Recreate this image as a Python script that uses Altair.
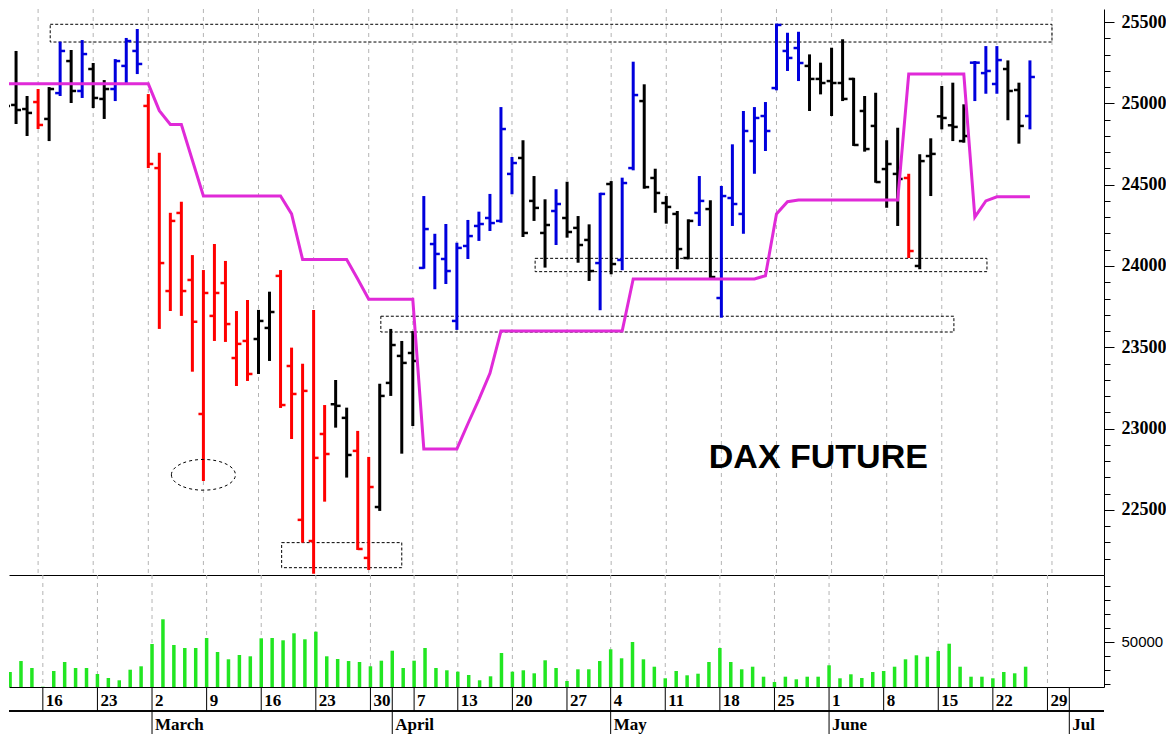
import altair as alt
import pandas as pd

# ---------------- data (trading-day index 0 = Mon 2 March) ----------------
day_index = list(range(-13, 81))

bar_color = list("kkkrkbkbkkbbb"
                 "rrrrrrrrrrkkrrrrrkkrrkkkk"
                 "bbbbbbbbbkkkbkkkbkbbkkkkkbkbbbbb"
                 "bbbkkkkkkkkkrkkkkkbbbkkb")

opens = [25100, 24990, 24965, 25008, 24904, 25063, 25260, 25076, 25211, 25027, 25088, 25230, 25322,
         24984, 24602, 23846, 24326, 23914, 23090, 23693, 23895, 23434, 23539, 23551, 23619, 23939,
         23385, 22439, 22309, 22967, 23150, 23066, 22863, 22205, 22518, 23281, 23447, 23465,
         23988, 24135, 24043, 23662, 24123, 24246, 24295, 24277, 24566, 24664, 24400, 24203, 24338,
         24295, 24234, 24160, 24018, 24504, 24037, 24602, 25014, 24541, 24387, 24320, 24049, 24326,
         24350, 23803, 24418, 24320, 24768, 24922, 25094, 25322, 25340, 25230, 25150, 25137, 25125,
         25150, 24953, 24861, 24596, 24566, 24541, 24000, 24676, 24920, 24865, 24768, 25250, 25186,
         25119, 25211, 25082, 24922]
highs = [25131, 25322, 25045, 25088, 25100, 25379, 25328, 25389, 25248, 25143, 25272, 25402, 25457,
         25057, 24696, 24327, 24395, 24067, 23975, 24135, 24031, 23723, 23791, 23730, 23842, 23975,
         23498, 23399, 23730, 23145, 23299, 23129, 22986, 22826, 23276, 23613, 23539, 23600,
         24430, 24198, 24258, 24143, 24283, 24334, 24443, 24977, 24670, 24773, 24553, 24410, 24472,
         24518, 24307, 24256, 24450, 24522, 24543, 25256, 25117, 24598, 24430, 24338, 24287, 24553,
         24404, 24492, 24748, 24953, 24977, 25008, 25490, 25434, 25440, 25301, 25250, 25342, 25394,
         25157, 25045, 25065, 24773, 24850, 24567, 24687, 24785, 25107, 25127, 24994, 25260, 25352,
         25352, 25264, 25127, 25264]
lows = [24898, 24873, 24799, 24842, 24768, 25045, 25002, 25033, 24971, 24904, 25014, 25125, 25180,
        24602, 23613, 23723, 23693, 23350, 22678, 23539, 23533, 23262, 23293, 23336, 23416, 23127,
        22936, 22299, 22107, 22551, 23006, 22699, 22254, 22131, 22494, 23201, 22846, 23016,
        23983, 23857, 23889, 23607, 24043, 24154, 24215, 24266, 24441, 24178, 24277, 23990, 24129,
        24174, 24020, 23908, 23728, 23949, 23974, 24588, 24475, 24327, 24260, 23980, 24041, 24246,
        23924, 23682, 24246, 24198, 24567, 24707, 25080, 25199, 25137, 24953, 25055, 24922, 25014,
        24738, 24703, 24512, 24358, 24246, 24049, 23980, 24430, 24840, 24768, 24758, 25014, 25059,
        25059, 24896, 24752, 24840]
closes = [24984, 24959, 24941, 24867, 25088, 25322, 25076, 25303, 25033, 25088, 25260, 25383, 25242,
          24627, 24018, 24277, 23846, 23657, 23834, 23834, 23643, 23521, 23336, 23662, 23717, 23145,
          23213, 23232, 22820, 22844, 23140, 22838, 22260, 22641, 23201, 23514, 23404, 23416,
          24227, 24074, 23969, 24111, 24184, 24258, 24264, 24842, 24633, 24203, 24357, 24252, 24381,
          24209, 24129, 23969, 24443, 24012, 24510, 25051, 24485, 24449, 24363, 24104, 24277, 24400,
          23932, 24430, 24381, 24830, 24910, 24830, 25482, 25279, 25248, 25150, 25125, 25125, 25027,
          24744, 24719, 24516, 24627, 24535, 24092, 24645, 24689, 24910, 24855, 24799, 25250, 25199,
          25266, 25076, 24861, 25162]
stop_line = [25120, 25120, 25120, 25120, 25120, 25120, 25120, 25120, 25120, 25120, 25120, 25120, 25120,
             25120, 24955, 24870, 24870, 24650, 24430, 24430, 24430, 24430, 24430, 24430, 24430, 24430,
             24320, 24040, 24040, 24040, 24040, 24040, 23920, 23795, 23795, 23795, 23795, 23795,
             22875, 22875, 22875, 22875, 23030, 23180, 23340, 23600, 23600, 23600, 23600, 23600, 23600,
             23600, 23600, 23600, 23600, 23600, 23600, 23920, 23920, 23920, 23920, 23920, 23920, 23920,
             23920, 23920, 23920, 23920, 23920, 23940, 24320, 24395, 24405, 24405, 24405, 24405, 24405,
             24405, 24405, 24405, 24405, 24405, 25180, 25180, 25180, 25180, 25180, 25180, 24300, 24400,
             24425, 24425, 24425, 24425]
volume = [28700, 36500, 31560, 18300, 29430, 35820, 31560, 31560, 27300, 24470, 22840, 30350, 32770,
          48580, 66100, 47870, 45750, 45750, 52840, 42910, 37730, 40780, 39860, 52620, 52840, 51200,
          56170, 51910, 57300, 39860, 37940, 36500, 35820, 32770, 36740, 43830, 31560, 36740,
          45750, 31560, 29930, 28940, 26600, 22840, 25670, 42200, 28940, 29930, 27800, 37020, 31560,
          22340, 30640, 30640, 36500, 44820, 38440,
          50000, 37730, 32480, 24260, 29430, 26380, 27520, 35820, 45750, 35820, 30640, 32480, 25390,
          21630, 25390, 23550, 25390, 25390, 33480, 24260, 27090, 24470, 28720, 29430, 32480, 37730,
          40570, 39570, 43620, 48790, 32480, 25390, 25390, 24260, 28720, 27800, 32480]

monday_idx = [-10, -5, 0, 5, 10, 15, 20, 24, 28, 33, 38, 42, 47, 52, 57, 62, 67, 72, 77, 82]
day_labels = ["16", "23", "2", "9", "16", "23", "30", "7", "13", "20", "27",
              "4", "11", "18", "25", "1", "8", "15", "22", "29"]
month_idx = [0, 22, 42, 62, 84]
month_labels = ["March", "April", "May", "June", "Jul"]
day_divider_idx = monday_idx + [22, 84]

box_x1 = [-8.9, 21.1, 35.1, 12.1]
box_x2 = [82.0, 73.1, 76.1, 23.0]
box_lo = [25377, 23594, 23965, 22145]
box_hi = [25486, 23691, 24047, 22299]

ellipse_x = [5]
ellipse_y = [22716]

title_x = [60.8]
title_y = [22755]
title_text = ["DAX FUTURE"]

price_ticks = list(range(22200, 25600, 100))
volume_ticks = [20000, 30000, 40000, 50000, 60000, 70000, 80000, 90000]

# ---------------- layout constants ----------------
W = 1095
H_PRICE = 566
H_VOL = 112
X_DOMAIN = [-12.64, 86.72]
P_DOMAIN = [22100, 25580]
V_DOMAIN = [18086, 97500]

ohlc = pd.DataFrame({"i": day_index, "open": opens, "high": highs, "low": lows,
                     "close": closes, "c": bar_color, "stop": stop_line, "vol": volume})
mondays = pd.DataFrame({"i": monday_idx, "lab": day_labels})
months = pd.DataFrame({"i": month_idx, "lab": month_labels})
dividers = pd.DataFrame({"i": day_divider_idx})
boxes = pd.DataFrame({"x1": box_x1, "x2": box_x2, "lo": box_lo, "hi": box_hi})
ellipse = pd.DataFrame({"i": ellipse_x, "p": ellipse_y})
title_df = pd.DataFrame({"i": title_x, "p": title_y, "t": title_text})

xs = alt.Scale(domain=X_DOMAIN, nice=False, zero=False)
ps = alt.Scale(domain=P_DOMAIN, nice=False, zero=False)
vs = alt.Scale(domain=V_DOMAIN, nice=False, zero=False)
cs = alt.Scale(domain=["r", "k", "b"], range=["#ff0000", "#000000", "#0000dd"])

x_axis = alt.Axis(orient="bottom", labels=False, ticks=False, domain=True, domainColor="black",
                  domainWidth=1, grid=False, title=None)
price_axis = alt.Axis(orient="right", values=price_ticks, format="d",
                      labelExpr="datum.value % 500 === 0 ? datum.label : ''",
                      tickSize={"condition": {"test": "datum.value % 500 === 0", "value": 10}, "value": 6},
                      tickColor="black", domainColor="black", labelColor="black",
                      labelFont="Liberation Serif", labelFontWeight="bold", labelFontSize=18,
                      labelPadding=7, labelOverlap=False, grid=False, title=None)
vol_axis = alt.Axis(orient="right", values=volume_ticks, format="d",
                    labelExpr="datum.value === 50000 ? datum.label : ''",
                    tickSize={"condition": {"test": "datum.value === 50000", "value": 10}, "value": 6},
                    tickColor="black", domainColor="black", labelColor="black",
                    labelFont="Liberation Sans", labelFontSize=15,
                    labelPadding=7, labelOverlap=False, grid=False, title=None)


def PX(f):
    return alt.X(f, scale=xs, axis=x_axis)


def PY(f):
    return alt.Y(f, scale=ps, axis=price_axis)


def VX(f):
    return alt.X(f, scale=xs, axis=x_axis)


def VY(f):
    return alt.Y(f, scale=vs, axis=vol_axis)


grid_p = alt.Chart(mondays).mark_rule(color="#b4b4b4", strokeDash=[4, 4], strokeWidth=1).encode(
    x=PX("i:Q"))

hl = alt.Chart(ohlc).mark_rule(strokeWidth=3, clip=True).encode(
    x=PX("i:Q"), y=PY("low:Q"), y2="high:Q",
    color=alt.Color("c:N", scale=cs, legend=None))
otick = alt.Chart(ohlc).transform_calculate(xl="datum.i - 0.45").mark_rule(
    strokeWidth=2.5, clip=True).encode(
    x=PX("xl:Q"), x2="i:Q", y=PY("open:Q"),
    color=alt.Color("c:N", scale=cs, legend=None))
ctick = alt.Chart(ohlc).transform_calculate(xr="datum.i + 0.45").mark_rule(
    strokeWidth=2.5, clip=True).encode(
    x=PX("i:Q"), x2="xr:Q", y=PY("close:Q"),
    color=alt.Color("c:N", scale=cs, legend=None))

stop = alt.Chart(ohlc).mark_line(color="#e02ad8", strokeWidth=3, clip=True).encode(
    x=PX("i:Q"), y=PY("stop:Q"))

rects = alt.Chart(boxes).mark_rect(fillOpacity=0, stroke="black", strokeWidth=1,
                                   strokeDash=[3, 2]).encode(
    x=PX("x1:Q"), x2="x2:Q", y=PY("lo:Q"), y2="hi:Q")

ell = alt.Chart(ellipse).mark_point(
    shape="M -1 0 A 1 0.48 0 1 1 1 0 A 1 0.48 0 1 1 -1 0 Z",
    size=4096, filled=False, stroke="black", strokeWidth=1, strokeDash=[3, 3], opacity=1).encode(
    x=PX("i:Q"), y=PY("p:Q"))

title = alt.Chart(title_df).mark_text(font="Liberation Sans", fontWeight="bold", fontSize=34,
                                      align="center", baseline="alphabetic", color="black").encode(
    x=PX("i:Q"), y=PY("p:Q"), text="t:N")

price = alt.layer(grid_p, rects, hl, otick, ctick, stop, ell, title).properties(
    width=W, height=H_PRICE)

# ---------------- volume + date axis ----------------
grid_v = alt.Chart(mondays).mark_rule(color="#b4b4b4", strokeDash=[4, 4], strokeWidth=1).encode(
    x=VX("i:Q"))
vbars = alt.Chart(ohlc).mark_bar(width=3.5, color="#22e622", clip=True).encode(
    x=VX("i:Q"), y=VY("vol:Q"), y2=alt.datum(V_DOMAIN[0]))

day_div = alt.Chart(dividers).mark_rule(color="black", strokeWidth=1).encode(
    x=VX("i:Q"), y=alt.value(H_VOL), y2=alt.value(H_VOL + 24))
month_div = alt.Chart(months).mark_rule(color="black", strokeWidth=1).encode(
    x=VX("i:Q"), y=alt.value(H_VOL + 24), y2=alt.value(H_VOL + 48))
row_line = alt.Chart(months).mark_rule(color="black", strokeWidth=1).encode(
    x=alt.value(0), x2=alt.value(W), y=alt.value(H_VOL + 24))
day_txt = alt.Chart(mondays).mark_text(font="Liberation Serif", fontWeight="bold", fontSize=17,
                                       align="left", baseline="alphabetic", dx=3,
                                       color="black").encode(
    x=VX("i:Q"), y=alt.value(H_VOL + 19), text="lab:N")
month_txt = alt.Chart(months).mark_text(font="Liberation Serif", fontWeight="bold", fontSize=17,
                                        align="left", baseline="alphabetic", dx=3,
                                        color="black").encode(
    x=VX("i:Q"), y=alt.value(H_VOL + 43), text="lab:N")

vol = alt.layer(grid_v, vbars, day_div, month_div, row_line, day_txt, month_txt).properties(
    width=W, height=H_VOL)

chart = alt.vconcat(price, vol, spacing=0, bounds="flush").properties(
    padding=0, background="white"
).configure_view(stroke=None)

chart.save("out.html", embed_options={"renderer": "svg", "actions": False})
